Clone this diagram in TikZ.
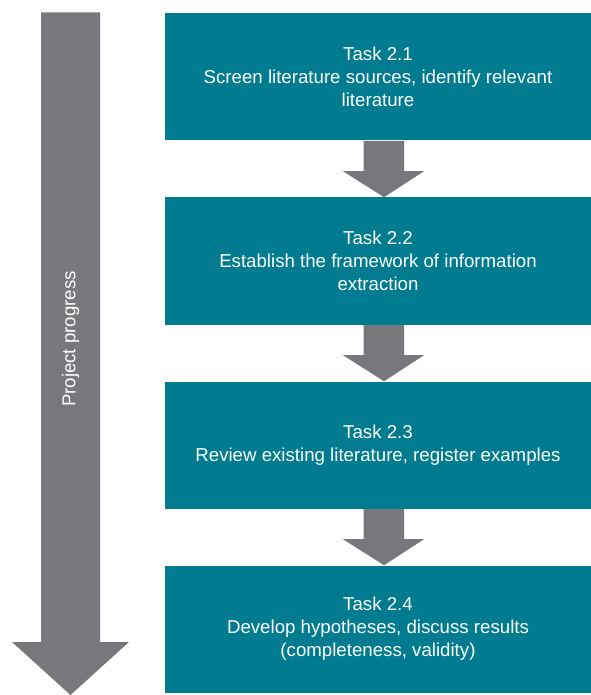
\documentclass[tikz,border=0pt]{standalone}
\usepackage{fontspec}
\setmainfont{Liberation Sans}
\usetikzlibrary{calc}

\definecolor{taskteal}{RGB}{0,123,143}
\definecolor{stepgrey}{RGB}{119,120,123}

\begin{document}
\begin{tikzpicture}[x=0.75pt,y=-0.75pt,
    task/.style={fill=taskteal, text=white, align=center, inner sep=0pt,
        minimum width=319.5pt, minimum height=95.25pt,
        font=\fontsize{14}{17.3}\selectfont},
    progress/.style={fill=stepgrey}]

\useasboundingbox (0,0) rectangle (591,695);

% long arrow on the left
\coordinate (top) at (70.5,12.5);
\coordinate (tip) at (70.5,695);
\fill [progress] ($(top)+(-29.5,0)$) -- ($(top)+(29.5,0)$)
    -- ($(tip)+(29.5,-53)$) -- ($(tip)+(58.5,-53)$) -- (tip)
    -- ($(tip)+(-58.5,-53)$) -- ($(tip)+(-29.5,-53)$) -- cycle;
\node [text=white, rotate=90, font=\fontsize{14}{16.7}\selectfont]
    (prog) at (70.5,339) {Project progress};

% the four tasks
\node [task] (t1) at (378,77)  {Task 2.1\\Screen literature sources, identify relevant\\literature};
\node [task] (t2) at (378,261) {Task 2.2\\Establish the framework of information\\extraction};
\node [task] (t3) at (378,445) {Task 2.3\\Review existing literature, register examples};
\node [task] (t4) at (378,629) {Task 2.4\\Develop hypotheses, discuss results\\(completeness, validity)};

% block arrows between the tasks
\foreach \a/\b in {t1/t2,t2/t3,t3/t4}
    \fill [progress] ($(\a.south)+(-14.5,0)$) -- ($(\a.south)+(26,0)$)
        -- ($(\b.north)+(26,-26)$) -- ($(\b.north)+(46,-26)$)
        -- ($(\b.north)+(6,0)$)
        -- ($(\b.north)+(-35,-26)$) -- ($(\b.north)+(-14.5,-26)$) -- cycle;

\end{tikzpicture}
\end{document}
